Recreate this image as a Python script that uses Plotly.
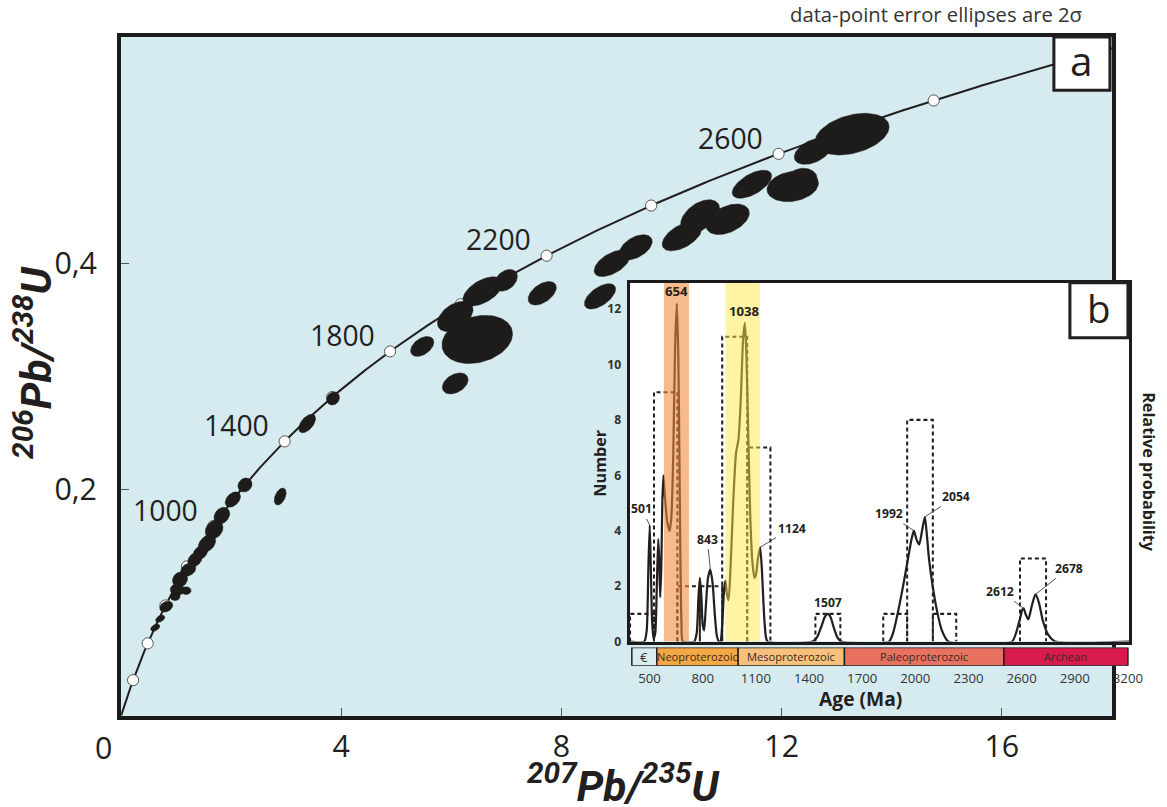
import numpy as np
import plotly.graph_objects as go

# layout is laid out on a 1167 x 807 grid; S is the pixel scale of the rendered page
BASE_W, BASE_H = 1167, 807
S = 1182 / 1167
W, H = round(BASE_W * S), round(BASE_H * S)

# ---------------- Concordia ----------------
LAMBDA_238 = 1.55125e-10   # 1/yr
LAMBDA_235 = 9.8485e-10    # 1/yr
concordia_span_ma = (0, 3000)
concordia_marker_ages = [200, 400, 600, 800, 1000, 1200, 1400, 1600, 1800,
                         2000, 2200, 2400, 2600, 2800]
concordia_label_ages = [1000, 1400, 1800, 2200, 2600]

# ---------------- U-Pb analyses (2-sigma ellipses) ----------------
pb207_u235 = [13.28, 12.57, 11.46, 12.20, 12.39, 10.52, 11.02, 10.19, 8.92, 9.35,
              8.70, 7.65, 6.47, 6.07, 6.57, 6.99, 5.47, 6.07,
              3.85, 3.38, 2.89, 2.25, 2.03, 1.83, 1.69, 1.56, 1.44, 1.34,
              1.22, 1.07, 1.02, 1.18, 0.98, 0.82, 0.71, 0.62]
pb206_u238 = [0.5142, 0.4991, 0.4699, 0.4681, 0.4752, 0.4416, 0.4389, 0.4239, 0.4000, 0.4142,
              0.3708, 0.3735, 0.3327, 0.3531, 0.3752, 0.3850, 0.3265, 0.2938,
              0.2805, 0.2584, 0.1938, 0.2040, 0.1912, 0.1770, 0.1646, 0.1522, 0.1442, 0.1380,
              0.1292, 0.1204, 0.1115, 0.1106, 0.1053, 0.0965, 0.0858, 0.0779]
err_207_235 = [0.672, 0.340, 0.358, 0.467, 0.254, 0.354, 0.392, 0.360, 0.327, 0.298,
               0.283, 0.256, 0.641, 0.323, 0.360, 0.209, 0.211, 0.234,
               0.118, 0.153, 0.108, 0.128, 0.139, 0.143, 0.161, 0.157, 0.131, 0.128,
               0.137, 0.137, 0.127, 0.091, 0.091, 0.119, 0.083, 0.083]
err_206_238 = [0.0184, 0.0116, 0.0124, 0.0136, 0.0089, 0.0146, 0.0135, 0.0129, 0.0117, 0.0111,
               0.0112, 0.0104, 0.0213, 0.0134, 0.0129, 0.0096, 0.0088, 0.0093,
               0.0058, 0.0082, 0.0075, 0.0062, 0.0068, 0.0073, 0.0082, 0.0076, 0.0061, 0.0063,
               0.0058, 0.0067, 0.0053, 0.0035, 0.0035, 0.0049, 0.0032, 0.0032]
err_corr = [0.35, 0.44, 0.60, 0.20, 0.00, 0.46, 0.42, 0.54, 0.55, 0.47,
            0.58, 0.49, 0.23, 0.45, 0.54, 0.35, 0.43, 0.37,
            0.15, 0.54, 0.43, 0.15, 0.39, 0.24, 0.22, 0.34, 0.28, 0.28,
            0.25, 0.13, 0.00, 0.00, 0.00, 0.29, 0.42, 0.42]

# ---------------- Detrital age spectrum (inset) ----------------
age_axis_range = [387, 3206]
count_axis_range = [0, 12.95]
age_ticks = [500, 800, 1100, 1400, 1700, 2000, 2300, 2600, 2900, 3200]
count_ticks = [0, 2, 4, 6, 8, 10, 12]

hist_bin_left = [390, 525, 657, 784, 910, 1051, 1436, 1819, 1954, 2099, 2591]
hist_bin_right = [525, 657, 784, 910, 1051, 1182, 1577, 1954, 2099, 2231, 2738]
hist_counts = [1, 9, 2, 2, 11, 7, 1, 1, 8, 1, 3]

prob_age = [387, 470, 484, 493, 501, 507, 514, 522, 532, 541, 549, 555, 560, 566, 572, 578,
            586, 600, 614, 624, 634, 644, 654, 662, 668, 674, 680, 688,
            752, 766, 776, 784, 792, 800, 808, 818, 830, 843, 856, 868, 880, 892,
            900, 910, 920, 928, 937, 946, 958, 972, 988, 1002, 1014, 1028, 1038, 1047,
            1058, 1068, 1080, 1092, 1100, 1112, 1124, 1134, 1146, 1156, 1166,
            1420, 1445, 1470, 1490, 1507, 1522, 1540, 1560, 1582,
            1851, 1874, 1900, 1931, 1959, 1979, 1992, 2006, 2022, 2038, 2054, 2066,
            2077, 2098, 2126, 2150, 2186,
            2546, 2568, 2590, 2604, 2612, 2622, 2638, 2658, 2678, 2698, 2720, 2750, 2790, 3206]
prob_val = [0, 0, 0.4, 2.6, 4.2, 2.7, 0.8, 0.1, 0.3, 2.0, 3.7, 2.9, 1.6, 2.6, 5.0, 6.0,
            5.3, 4.3, 4.0, 4.6, 6.8, 10.6, 12.2, 10.4, 7.0, 3.0, 0.7, 0.0,
            0, 0.3, 1.6, 2.3, 1.7, 0.6, 0.4, 1.3, 2.3, 2.6, 2.1, 1.0, 0.2, 0.0,
            0, 0.6, 1.8, 2.2, 1.7, 1.5, 2.8, 5.0, 6.8, 7.3, 8.6, 10.9, 11.5, 10.3,
            7.2, 4.6, 2.9, 2.3, 2.4, 3.0, 3.4, 2.6, 1.0, 0.2, 0.0,
            0, 0.15, 0.55, 0.9, 1.0, 0.88, 0.5, 0.15, 0.0,
            0, 0.3, 1.0, 2.0, 3.0, 3.7, 4.0, 3.7, 3.5, 4.0, 4.5, 3.8,
            3.0, 2.0, 1.0, 0.4, 0.0,
            0, 0.3, 0.8, 1.15, 1.2, 1.0, 0.8, 1.3, 1.7, 1.4, 0.75, 0.25, 0.0, 0]

peak_ages = [501, 654, 843, 1038, 1124, 1507, 1992, 2054, 2612, 2678]
highlight_bands = [(581, 722), (928, 1122)]
highlight_colors = ["rgba(242,138,55,0.58)", "rgba(252,232,70,0.50)"]

period_names = ["€", "Neoproterozoic", "Mesoproterozoic", "Paleoproterozoic", "Archean"]
period_start = [400, 541, 1000, 1600, 2500]
period_end = [541, 1000, 1600, 2500, 3200]
period_colors = ["#d9edf1", "#f4a843", "#f7c17d", "#e9715f", "#d81b4b"]

# ---------------- styling ----------------
FONT = "Open Sans, Noto Sans, sans-serif"
TITLE_FONT = "Liberation Sans Narrow, Roboto, sans-serif"
INK = "#231f20"
BG_BLUE = "#d5ebf0"


def p(v):
    """pixel length on the base grid -> page pixels"""
    return v * S


def pi_(v):
    return int(round(v * S))


def fx(px):
    return px / BASE_W


def fy(px):
    return 1 - px / BASE_H


def concordia(t_ma):
    t = np.asarray(t_ma, dtype=float) * 1e6
    return np.exp(LAMBDA_235 * t) - 1, np.exp(LAMBDA_238 * t) - 1


def paper_text(x, y, text, size, **kw):
    return dict(x=fx(x), y=fy(y), xref="paper", yref="paper", text=text, showarrow=False,
                xanchor="center", yanchor="middle",
                font=dict(family=kw.pop("family", FONT), size=p(size), color=kw.pop("color", INK)),
                **kw)


fig = go.Figure()

# concordia curve
t_curve = np.linspace(*concordia_span_ma, 600)
cx, cy = concordia(t_curve)
fig.add_trace(go.Scatter(x=cx, y=cy, mode="lines", line=dict(color=INK, width=p(2)),
                         hoverinfo="skip", showlegend=False))
mx, my = concordia(concordia_marker_ages)
fig.add_trace(go.Scatter(x=mx, y=my, mode="markers",
                         marker=dict(size=p(11), color="white", line=dict(color="#555", width=1)),
                         hoverinfo="skip", showlegend=False))

# error ellipses
theta = np.linspace(0, 2 * np.pi, 90)
for x0, y0, sx, sy, r in zip(pb207_u235, pb206_u238, err_207_235, err_206_238, err_corr):
    ex = x0 + sx * np.cos(theta)
    ey = y0 + sy * (r * np.cos(theta) + np.sqrt(1 - r * r) * np.sin(theta))
    fig.add_trace(go.Scatter(x=ex, y=ey, mode="lines", fill="toself",
                             fillcolor="#1e1c1b", line=dict(color="#1e1c1b", width=0.5),
                             hoverinfo="skip", showlegend=False))

# ---------------- inset b ----------------
fig.add_trace(go.Scatter(x=[age_axis_range[0], age_axis_range[1], age_axis_range[1], age_axis_range[0]],
                         y=[count_axis_range[0], count_axis_range[0], count_axis_range[1], count_axis_range[1]],
                         xaxis="x2", yaxis="y2", mode="lines", fill="toself", fillcolor="white",
                         line=dict(width=0), hoverinfo="skip", showlegend=False))
fig.add_trace(go.Scatter(x=prob_age, y=prob_val, xaxis="x2", yaxis="y2", mode="lines",
                         line=dict(color=INK, width=p(2.2), shape="spline", smoothing=0.6),
                         hoverinfo="skip", showlegend=False))
hx, hy = [], []
for l, r, c in zip(hist_bin_left, hist_bin_right, hist_counts):
    hx += [l, l, r, r, None]
    hy += [0, c, c, 0, None]
fig.add_trace(go.Scatter(x=hx, y=hy, xaxis="x2", yaxis="y2", mode="lines",
                         line=dict(color=INK, width=p(2), dash="4px,3px"),
                         hoverinfo="skip", showlegend=False))
for (b0, b1), col in zip(highlight_bands, highlight_colors):
    fig.add_trace(go.Scatter(x=[b0, b1, b1, b0], y=[count_axis_range[0]] * 2 + [count_axis_range[1]] * 2,
                             xaxis="x2", yaxis="y2", mode="lines", fill="toself", fillcolor=col,
                             line=dict(width=0), hoverinfo="skip", showlegend=False))

annotations = []
shapes = []

# peak labels
peak_height = dict(zip(prob_age, prob_val))
label_offsets = {501: (-8, -16), 654: None, 843: (-3, -30), 1038: None, 1124: (31, -19),
                 1507: None, 1992: (-25, -17), 2054: (31, -20), 2612: (-23, -17), 2678: (33, -26)}
for age in peak_ages:
    off = label_offsets[age]
    big = age in (654, 1038)
    base = dict(x=age, y=peak_height[age], xref="x2", yref="y2", text=f"<b>{age}</b>",
                font=dict(family=FONT, size=p(13 if big else 12), color=INK))
    if off is None:
        annotations.append(dict(**base, showarrow=False, xanchor="center", yanchor="bottom",
                                yshift=p(1)))
    else:
        annotations.append(dict(**base, showarrow=True, arrowhead=0, arrowwidth=1,
                                arrowcolor="#555", ax=p(off[0]), ay=p(off[1])))

# geological time scale bar
for name, s, e, col in zip(period_names, period_start, period_end, period_colors):
    shapes.append(dict(type="rect", xref="x3", yref="y3", x0=s, x1=e, y0=0, y1=1,
                       fillcolor=col, line=dict(color=INK, width=1.5), layer="above"))
    annotations.append(dict(x=(s + e) / 2, y=0.5, xref="x3", yref="y3", text=name,
                            showarrow=False, xanchor="center", yanchor="middle",
                            font=dict(family=FONT, size=p(11 if name != "€" else 13),
                                      color="#3b2b25")))

# concordia age labels
lx, ly = concordia(concordia_label_ages)
for a, x0, y0 in zip(concordia_label_ages, lx, ly):
    annotations.append(dict(x=x0, y=y0, xref="x", yref="y", text=str(a), showarrow=False,
                            xanchor="center", yanchor="middle",
                            xshift=p(-47), yshift=p(16), font=dict(family=FONT, size=p(28), color=INK)))

# panel labels
shapes.append(dict(type="rect", xref="paper", yref="paper", x0=fx(1053), x1=fx(1109),
                   y0=fy(90), y1=fy(37), fillcolor="white", line=dict(color=INK, width=p(3)),
                   layer="above"))
shapes.append(dict(type="rect", xref="paper", yref="paper", x0=fx(1069), x1=fx(1127),
                   y0=fy(337), y1=fy(282), fillcolor="white", line=dict(color=INK, width=p(3)),
                   layer="above"))

annotations += [
    paper_text(1081, 60, "a", 40),
    paper_text(1098, 307, "b", 38),
    paper_text(935, 14, "data-point error ellipses are 2σ", 20, color="#333"),
    paper_text(103, 746, "0", 30),
    paper_text(623, 781, "<b><i><sup>207</sup>Pb/<sup>235</sup>U</i></b>", 42, family=TITLE_FONT),
    paper_text(33, 362, "<b><i><sup>206</sup>Pb/<sup>238</sup>U</i></b>", 42, family=TITLE_FONT,
               textangle=-90),
    paper_text(600, 462, "<b>Number</b>", 16, textangle=-90),
    paper_text(1148, 471, "<b>Relative probability</b>", 16, textangle=90),
    paper_text(860, 697, "<b>Age (Ma)</b>", 19),
]

axis_line = dict(showline=True, linecolor="#1b1b1b", mirror=True, zeroline=False, showgrid=False)

fig.update_layout(
    width=W, height=H,
    margin=dict(l=0, r=0, t=0, b=0),
    paper_bgcolor="white", plot_bgcolor=BG_BLUE,
    showlegend=False,
    xaxis=dict(domain=[fx(121), fx(1111)], range=[0, 18], linewidth=p(4),
               tickvals=[4, 8, 12, 16], ticks="inside", ticklen=p(8), tickcolor="#555", tickwidth=1,
               ticklabelstandoff=pi_(1), tickfont=dict(family=FONT, size=p(30), color=INK),
               **axis_line),
    yaxis=dict(domain=[fy(714), fy(37)], range=[0, 0.6], linewidth=p(4),
               tickvals=[0.2, 0.4], ticktext=["0,2", "0,4"], ticks="inside", ticklen=p(8),
               tickcolor="#555", tickwidth=1, ticklabelstandoff=pi_(14),
               tickfont=dict(family=FONT, size=p(30), color=INK), **axis_line),
    xaxis2=dict(domain=[fx(629), fx(1128)], range=age_axis_range, anchor="y2", linewidth=p(3),
                showline=True, linecolor="#1b1b1b", mirror=True, zeroline=False,
                showgrid=True, gridcolor="#ebebeb", gridwidth=1, tick0=0, dtick=400,
                showticklabels=False, ticks=""),
    yaxis2=dict(domain=[fy(640), fy(282)], range=count_axis_range, anchor="x2", linewidth=p(3),
                showline=True, linecolor="#1b1b1b", mirror=True, zeroline=False, showgrid=False,
                tickvals=count_ticks, ticks="", ticklabelstandoff=pi_(3),
                tickfont=dict(family=FONT, size=p(12), color="#333", weight="bold")),
    xaxis3=dict(domain=[fx(629), fx(1128)], range=age_axis_range, anchor="y3",
                showline=False, showgrid=False, zeroline=False, tickvals=age_ticks, ticks="",
                ticklabelstandoff=pi_(3), tickfont=dict(family=FONT, size=p(13), color="#333")),
    yaxis3=dict(domain=[fy(664), fy(646)], range=[0, 1], anchor="x3", visible=False),
    annotations=annotations,
    shapes=shapes,
)

fig.write_html("out.html")
